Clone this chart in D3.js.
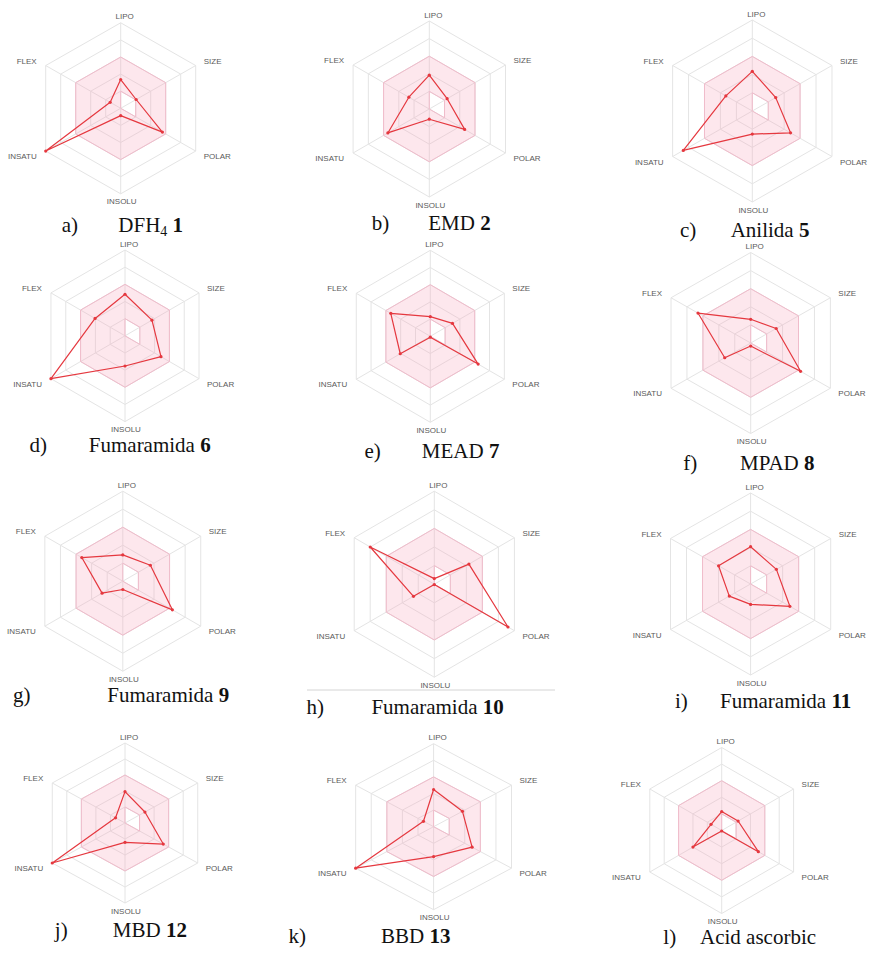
<!DOCTYPE html>
<html>
<head>
<meta charset="utf-8">
<script src="https://cdn.jsdelivr.net/npm/d3@7"></script>
<style>
  body { margin: 0; background: #fff; }
  .axlab { font-family: "Liberation Sans", Arial, sans-serif; font-size: 8px; fill: #5a5a5a; }
  .cap { font-family: "Liberation Serif", "Times New Roman", serif; font-size: 21px; fill: #111; }
</style>
</head>
<body>
<script>
// radar axes, clockwise from the top
var axes = ["LIPO", "SIZE", "POLAR", "INSOLU", "INSATU", "FLEX"];

// panel captions
var letters = ["a)", "b)", "c)", "d)", "e)", "f)", "g)", "h)", "i)", "j)", "k)", "l)"];
var names = ["DFH", "EMD", "Anilida", "Fumaramida", "MEAD", "MPAD", "Fumaramida", "Fumaramida", "Fumaramida", "MBD", "BBD", "Acid ascorbic"];
var subs = ["4", "", "", "", "", "", "", "", "", "", "", ""];
var numbers = ["1", "2", "5", "6", "7", "8", "9", "10", "11", "12", "13", ""];

// values per axis, one per compound (0 = centre, 5 = outer ring)
var lipo   = [1.68, 1.92, 2.18, 2.42, 1.14, 1.31, 1.46, 0.30, 2.05, 1.96, 2.24, 1.14];
var size   = [1.03, 1.17, 1.47, 1.82, 1.50, 1.60, 1.77, 2.16, 1.61, 1.37, 1.85, 1.14];
var polar  = [2.78, 2.32, 2.40, 2.43, 3.23, 3.13, 3.18, 4.60, 2.45, 2.63, 2.47, 2.55];
var insolu = [0.43, 0.58, 1.27, 1.76, 0.05, 0.17, 0.46, 0.02, 1.12, 1.21, 1.80, 0.03];
var insatu = [5.00, 2.72, 4.33, 5.00, 2.03, 1.63, 1.33, 1.30, 1.33, 5.00, 5.00, 2.00];
var flex   = [0.70, 1.34, 1.66, 2.02, 2.67, 3.31, 2.63, 4.00, 2.00, 0.65, 0.65, 0.74];

// optimal (pink) zone: lower / upper bound on each axis
var zoneLow  = [1, 1, 1, 0, 0, 0];
var zoneHigh = [3, 3, 3, 3, 3, 3];

// where each panel sits on the page
var layout = [
    {cx: 120.7, cy: 108.3, rx: 86.6, ry: 85.5, lx: 61.7,  tx: 118.3, ty: 231.5},
    {cx: 429.3, cy: 109,   rx: 88,   ry: 88,   lx: 371.7, tx: 428.3, ty: 230},
    {cx: 752.3, cy: 111,   rx: 92,   ry: 91,   lx: 680,   tx: 730.7, ty: 236.5},
    {cx: 125,   cy: 335.8, rx: 85.5, ry: 85.8, lx: 29.6,  tx: 88.8,  ty: 451.7},
    {cx: 430.3, cy: 336.3, rx: 85.5, ry: 86,   lx: 364.4, tx: 421.8, ty: 457.7},
    {cx: 750.7, cy: 343,   rx: 92,   ry: 90.5, lx: 683.3, tx: 740,   ty: 470},
    {cx: 122.8, cy: 581.2, rx: 90,   ry: 90,   lx: 12.9,  tx: 107.3, ty: 701.7},
    {cx: 434.3, cy: 584.2, rx: 92.5, ry: 93,   lx: 306.6, tx: 371.4, ty: 714},
    {cx: 750.6, cy: 584,   rx: 92.5, ry: 91,   lx: 675,   tx: 720,   ty: 708},
    {cx: 125,   cy: 823,   rx: 84,   ry: 80,   lx: 54.8,  tx: 112.8, ty: 936.7},
    {cx: 433.6, cy: 826.7, rx: 90,   ry: 83,   lx: 288.6, tx: 381,   ty: 943.3},
    {cx: 721.7, cy: 830.5, rx: 83,   ry: 83,   lx: 663.3, tx: 700,   ty: 944.3}
];

// label placement around the outer vertex: dx, dy, anchor
var labelPos = {
    LIPO:   [4, -3.5, "middle"],
    SIZE:   [8, -2, "start"],
    POLAR:  [8, 8, "start"],
    INSOLU: [1, 10.5, "middle"],
    INSATU: [-9, 8, "end"],
    FLEX:   [-9, -2, "end"]
};

var svg = d3.select("body").append("svg")
    .attr("width", 869)
    .attr("height", 953);

svg.append("rect").attr("width", 869).attr("height", 953).attr("fill", "#fff");

var angle = d3.scalePoint().domain(axes).range([0, 300]);
var line = d3.line();

layout.forEach(function (p, i) {
    var sx = d3.scaleLinear().domain([0, 5]).range([0, p.rx]),
        sy = d3.scaleLinear().domain([0, 5]).range([0, p.ry]);

    function pt(k, v) {
        var a = angle(k) * Math.PI / 180;
        return [p.cx + sx(v) * Math.sin(a), p.cy - sy(v) * Math.cos(a)];
    }

    var g = svg.append("g");

    // rings
    d3.range(1, 6).forEach(function (r) {
        g.append("path")
            .attr("d", line(axes.map(function (k) { return pt(k, r); })) + "Z")
            .attr("fill", "none")
            .attr("stroke", "#e4e4e4")
            .attr("stroke-width", 1);
    });

    // spokes
    axes.forEach(function (k) {
        g.append("path")
            .attr("d", line([pt(k, 0), pt(k, 5)]))
            .attr("stroke", "#e4e4e4")
            .attr("stroke-width", 1);
    });

    // pink zone
    var outer = line(axes.map(function (k, j) { return pt(k, zoneHigh[j]); })) + "Z";
    var inner = line(axes.map(function (k, j) { return pt(k, zoneLow[j]); })) + "Z";
    g.append("path")
        .attr("d", outer + inner)
        .attr("fill-rule", "evenodd")
        .attr("fill", "#f7a8bd")
        .attr("fill-opacity", 0.28)
        .attr("stroke", "#f0bccb")
        .attr("stroke-width", 1);

    // compound polygon
    var vals = [lipo[i], size[i], polar[i], insolu[i], insatu[i], flex[i]];
    var pts = axes.map(function (k, j) { return pt(k, vals[j]); });

    g.append("path")
        .attr("d", line(pts) + "Z")
        .attr("fill", "none")
        .attr("stroke", "#e5383f")
        .attr("stroke-width", 1.2)
        .attr("stroke-linejoin", "round");

    g.selectAll(".dot")
        .data(pts)
        .enter().append("circle")
        .attr("class", "dot")
        .attr("cx", function (d) { return d[0]; })
        .attr("cy", function (d) { return d[1]; })
        .attr("r", 1.6)
        .attr("fill", "#e5383f");

    // axis labels
    axes.forEach(function (k) {
        var v = pt(k, 5), lp = labelPos[k];
        g.append("text")
            .attr("class", "axlab")
            .attr("x", v[0] + lp[0])
            .attr("y", v[1] + lp[1])
            .attr("text-anchor", lp[2])
            .text(k);
    });

    // caption
    svg.append("text")
        .attr("class", "cap")
        .attr("x", p.lx)
        .attr("y", p.ty)
        .text(letters[i]);

    var t = svg.append("text")
        .attr("class", "cap")
        .attr("x", p.tx)
        .attr("y", p.ty);
    t.append("tspan").text(names[i]);
    if (subs[i]) {
        t.append("tspan").attr("font-size", "14px").attr("dy", 4).text(subs[i]);
        t.append("tspan").attr("dy", -4).text(" ");
    } else if (numbers[i]) {
        t.append("tspan").text(" ");
    }
    if (numbers[i]) {
        t.append("tspan").attr("font-weight", "bold").text(numbers[i]);
    }
});

// thin rule above panel h caption
svg.append("line")
    .attr("x1", 307).attr("x2", 555)
    .attr("y1", 690).attr("y2", 690)
    .attr("stroke", "#d4d4d4")
    .attr("stroke-width", 1);
</script>
</body>
</html>
